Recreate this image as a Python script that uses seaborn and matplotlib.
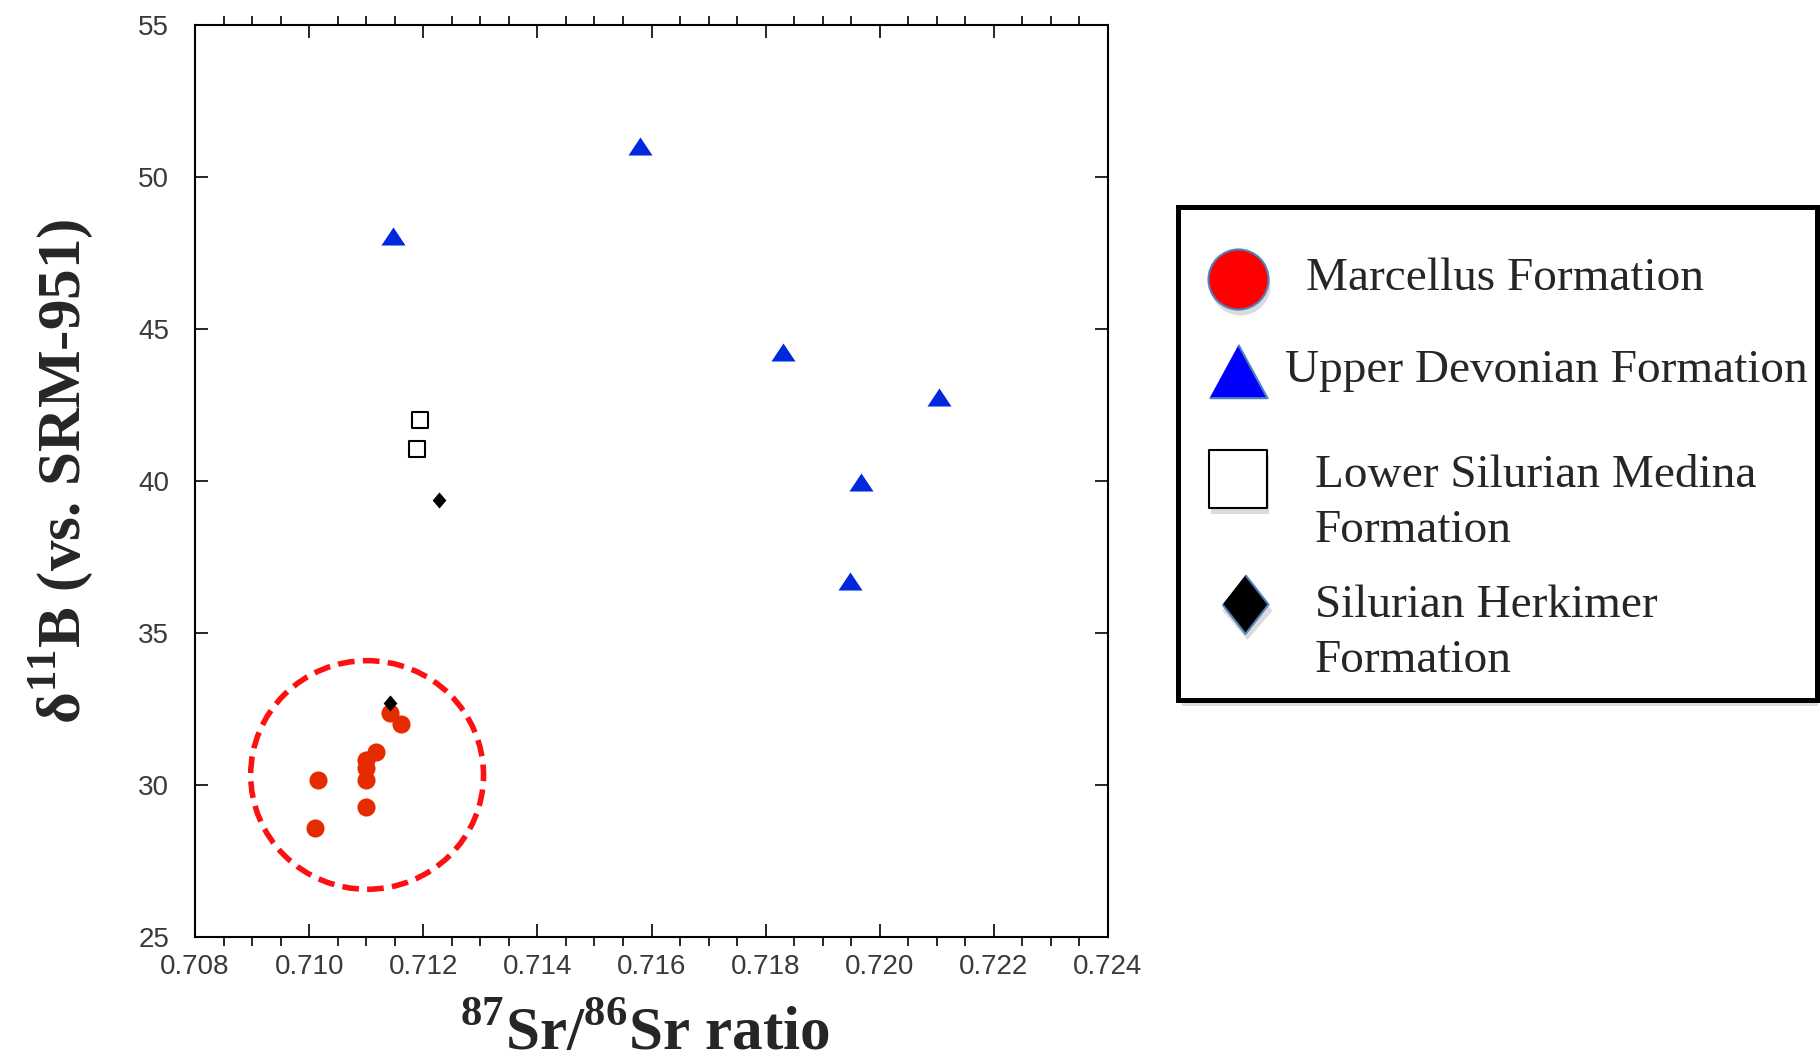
import numpy as np
import pandas as pd
import matplotlib
matplotlib.use("Agg")
import matplotlib.pyplot as plt
import seaborn as sns
from matplotlib.patches import Ellipse, Rectangle
from matplotlib.ticker import MultipleLocator, FormatStrFormatter

# values
marcellus_sr = [0.71141, 0.71161, 0.71118, 0.71100, 0.71100, 0.71100, 0.71016, 0.71100, 0.71011]
marcellus_b = [32.37, 32.01, 31.10, 30.82, 30.56, 30.16, 30.16, 29.29, 28.58]

devonian_sr = [0.71147, 0.71579, 0.71831, 0.72103, 0.71967, 0.71948]
devonian_b = [48.07, 51.02, 44.25, 42.77, 39.98, 36.71]

medina_sr = [0.71194, 0.71189]
medina_b = [42.01, 41.04]

herkimer_sr = [0.71227, 0.71141]
herkimer_b = [39.37, 32.69]

legend_labels = ["Marcellus Formation", "Upper Devonian Formation",
                 "Lower Silurian Medina\nFormation", "Silurian Herkimer\nFormation"]

x_ticks = np.arange(0.708, 0.7241, 0.002)
y_ticks = np.arange(25, 56, 5)

sns.set_style("ticks")
plt.rcParams["font.family"] = ["Liberation Sans", "DejaVu Sans"]
plt.rcParams["mathtext.fontset"] = "custom"
plt.rcParams["mathtext.rm"] = "Liberation Serif"
plt.rcParams["mathtext.bf"] = "Liberation Serif:bold"

red = "#e52b00"
blue = "#0028dc"
tri = [(-1, -0.75), (1, -0.75), (0, 0.75)]
dia = [(0, 1), (0.85, 0), (0, -1), (-0.85, 0)]

fig = plt.figure(figsize=(18.2, 10.61), dpi=100)
ax = fig.add_axes([195 / 1820, 1 - 937 / 1061, 913 / 1820, 912 / 1061])

df_m = pd.DataFrame({"sr": marcellus_sr, "b": marcellus_b})
df_d = pd.DataFrame({"sr": devonian_sr, "b": devonian_b})
df_s = pd.DataFrame({"sr": medina_sr, "b": medina_b})
df_h = pd.DataFrame({"sr": herkimer_sr, "b": herkimer_b})

sns.scatterplot(data=df_m, x="sr", y="b", ax=ax, color=red, s=170, linewidth=0, zorder=3)
sns.scatterplot(data=df_d, x="sr", y="b", ax=ax, color=blue, marker=tri, s=300, linewidth=0, zorder=3)
sns.scatterplot(data=df_s, x="sr", y="b", ax=ax, marker="s", s=140, facecolor="white",
                edgecolor="black", linewidth=1.5, zorder=3)
sns.scatterplot(data=df_h, x="sr", y="b", ax=ax, color="black", marker=dia, s=135,
                linewidth=0, zorder=4)

# dashed ring round the Marcellus cluster
ax.add_patch(Ellipse((0.711016, 30.33), width=2 * 0.00204, height=2 * 3.76, fill=False,
                     edgecolor="#ff1010", linewidth=4, linestyle=(0, (3, 1.5)), zorder=2))

ax.set_xlim(0.708, 0.724)
ax.set_ylim(25, 55)
ax.set_xticks(x_ticks)
ax.set_yticks(y_ticks)
ax.xaxis.set_major_formatter(FormatStrFormatter("%.3f"))
ax.xaxis.set_minor_locator(MultipleLocator(0.0005))
for sp in ax.spines.values():
    sp.set_linewidth(1.5)
    sp.set_color("black")
ax.tick_params(axis="x", which="major", direction="in", length=9.4, width=1.4,
               top=True, bottom=True, labelsize=20, labelcolor="#3a3a3a", pad=12)
ax.tick_params(axis="x", which="minor", direction="out", length=6.5, width=1.4,
               top=True, bottom=True)
ax.tick_params(axis="y", which="major", direction="in", length=9.4, width=1.4,
               left=True, right=True, labelsize=20, labelcolor="#3a3a3a", pad=18.5)

ax.set_xlabel("$^{\\mathbf{87}}$Sr/$^{\\mathbf{86}}$Sr ratio", fontfamily="Liberation Serif",
              fontweight="bold", fontsize=44)
ax.xaxis.set_label_coords(0.493, -0.077)
ax.set_ylabel("δ$^{\\mathbf{11}}$B (vs. SRM-951)", fontfamily="Liberation Serif",
              fontweight="bold", fontsize=44)
ax.yaxis.set_label_coords(-0.109, 0.511)

# legend box, laid out in pixel units
fig.patches.append(Rectangle((1182 / 1820, 1 - 706 / 1061), 636 / 1820, 493 / 1061,
                             transform=fig.transFigure, facecolor="#bbbbbb", alpha=0.5,
                             edgecolor="none", zorder=-1))
lax = fig.add_axes([1178 / 1820, 1 - 700 / 1061, 639 / 1820, 493 / 1061], zorder=2)
lax.set_facecolor("white")
lax.set_xlim(1178, 1817)
lax.set_ylim(700, 207)
lax.set_xticks([])
lax.set_yticks([])
for sp in lax.spines.values():
    sp.set_linewidth(3.6)
    sp.set_color("black")

hx = [1238, 1238, 1238, 1245]
hy = [279, 371, 479, 604]
shadow = dict(color="#999999", alpha=0.35, linewidths=0, zorder=1)
lax.scatter(hx[0] + 2, hy[0] + 6, s=1870, marker="o", **shadow)
lax.scatter(hx[1] + 2, hy[1] + 6, s=1740, marker=tri, **shadow)
lax.scatter(hx[2] + 2, hy[2] + 6, s=1740, marker="s", **shadow)
lax.scatter(hx[3] + 2, hy[3] + 6, s=1800, marker=dia, **shadow)
lax.scatter(hx[0], hy[0], s=1870, marker="o", facecolor="#ff0000", edgecolor="#4f81bd",
            linewidth=1.5, zorder=2)
lax.scatter(hx[1], hy[1], s=1740, marker=[(-1, -0.92), (1, -0.92), (0, 0.92)],
            facecolor="#0000ff", edgecolor="#4f81bd", linewidth=1.5, zorder=2)
lax.scatter(hx[2], hy[2], s=1740, marker="s", facecolor="white", edgecolor="black",
            linewidth=1.5, zorder=2)
lax.scatter(hx[3], hy[3], s=1800, marker=[(0, 1), (0.78, 0), (0, -1), (-0.78, 0)],
            facecolor="black", edgecolor="#4f81bd", linewidth=1.5, zorder=2)

tx = [1306, 1285, 1315, 1315]
ty = [279, 371, 503, 633]
for x, y, lab in zip(tx, ty, legend_labels):
    lax.text(x, y, lab, fontfamily="Liberation Serif", fontsize=34, ha="left", va="center",
             linespacing=1.38, zorder=3)

fig.savefig("out.png", dpi=100)
